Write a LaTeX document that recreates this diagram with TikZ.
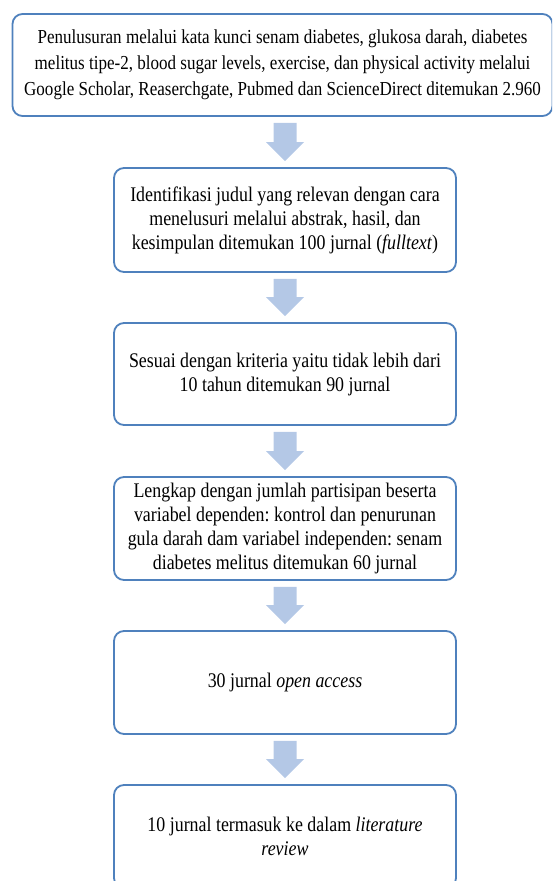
\documentclass[tikz,border=0pt]{standalone}
\usepackage{fontspec}
\setmainfont[FakeStretch=0.86]{Liberation Serif}
\usetikzlibrary{calc}
\definecolor{boxline}{HTML}{4F81BD}
\definecolor{arrowfill}{HTML}{B4C8E6}
\tikzset{
  stepbox/.style={draw=boxline, line width=1.8pt, rounded corners=10pt, fill=white,
    minimum width=342pt, minimum height=103pt, align=center, inner sep=0pt,
    font=\fontsize{20.8pt}{24pt}\selectfont},
  blockarr/.style={fill=arrowfill, draw=none}
}
\newcommand\blockarrow[2]{%
  \fill[blockarr] let \p1=(#1.south), \p2=(#2.north) in
    (285pt-11.5pt,\y1-6pt) -- (285pt+11.5pt,\y1-6pt) -- (285pt+11.5pt,\y2+25pt) --
    (285pt+19pt,\y2+25pt) -- (285pt,\y2+6pt) -- (285pt-19pt,\y2+25pt) --
    (285pt-11.5pt,\y2+25pt) -- cycle;}
\frenchspacing
\begin{document}
\begin{tikzpicture}[x=1pt,y=-1pt]
\useasboundingbox (0,0) rectangle (552,881);
\clip (0,0) rectangle (552,881);
\node[stepbox, minimum width=540pt, minimum height=102pt,
      font=\fontsize{19.8pt}{26pt}\selectfont] (b1) at (282.5,65)
  {Penulusuran melalui kata kunci senam diabetes, glukosa darah, diabetes\\
   melitus tipe-2, blood sugar levels, exercise, dan physical activity melalui\\
   Google Scholar, Reaserchgate, Pubmed dan ScienceDirect ditemukan 2.960};
\node[stepbox, minimum height=104pt] (b2) at (285,220)
  {Identifikasi judul yang relevan dengan cara\\
   menelusuri melalui abstrak, hasil, dan\\
   kesimpulan ditemukan 100 jurnal (\textit{fulltext})};
\node[stepbox, minimum height=102pt] (b3) at (285,374)
  {Sesuai dengan kriteria yaitu tidak lebih dari\\
   10 tahun ditemukan 90 jurnal};
\node[stepbox] (b4) at (285,528.5)
  {Lengkap dengan jumlah partisipan beserta\\
   variabel dependen: kontrol dan penurunan\\
   gula darah dam variabel independen: senam\\
   diabetes melitus ditemukan 60 jurnal};
\node[stepbox] (b5) at (285,682.5)
  {30 jurnal \textit{open access}};
\node[stepbox] (b6) at (285,836.5)
  {10 jurnal termasuk ke dalam \textit{literature}\\
   \textit{review}};
\blockarrow{b1}{b2}
\blockarrow{b2}{b3}
\blockarrow{b3}{b4}
\blockarrow{b4}{b5}
\blockarrow{b5}{b6}
\end{tikzpicture}
\end{document}
